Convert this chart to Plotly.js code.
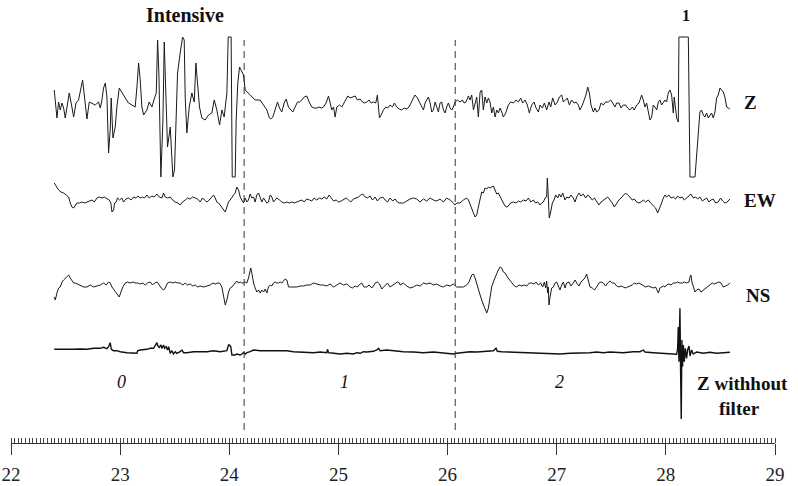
<!DOCTYPE html>
<html>
<head>
<meta charset="utf-8">
<script src="https://cdn.plot.ly/plotly-3.0.1.min.js"></script>
<style>html,body{margin:0;padding:0;background:#fff;}#chart{width:798px;height:486px;}</style>
</head>
<body>
<div id="chart"></div>
<script>
// ---- Z channel (filtered) ----
const zTime = [
22.396,22.421,22.436,22.451,22.467,22.482,22.497,22.513,22.534,22.558,
22.574,22.595,22.619,22.656,22.674,22.696,22.717,22.742,22.772,22.802,
22.818,22.833,22.848,22.864,22.879,22.894,22.909,22.918,22.934,22.955,
22.970,22.992,23.016,23.047,23.077,23.108,23.138,23.154,23.169,23.184,
23.199,23.215,23.245,23.266,23.291,23.315,23.331,23.343,23.355,23.373,
23.392,23.404,23.419,23.434,23.459,23.474,23.483,23.498,23.511,23.526,
23.550,23.572,23.587,23.596,23.611,23.633,23.657,23.679,23.694,23.712,
23.727,23.749,23.779,23.810,23.840,23.862,23.886,23.911,23.932,23.953,
23.978,23.990,24.017,24.027,24.054,24.063,24.078,24.094,24.115,24.130,
24.146,24.176,24.207,24.237,24.283,24.314,24.344,24.368,
24.381,24.399,24.420,24.442,24.460,24.481,24.503,24.521,24.542,24.564,
24.582,24.603,24.625,24.643,24.665,24.686,24.710,24.732,24.756,24.777,
24.802,24.823,24.842,24.863,24.887,24.909,24.924,24.939,24.955,24.970,
24.985,25.010,25.031,25.052,25.071,25.086,25.107,25.132,25.153,25.174,
25.199,25.220,25.238,25.260,25.281,25.300,25.321,25.342,25.357,25.367,
25.376,25.391,25.412,25.434,25.452,25.473,25.495,25.513,25.534,25.556,
25.580,25.602,25.626,25.647,25.666,25.687,25.702,25.724,25.742,25.763,
25.779,25.794,25.809,25.824,25.840,25.855,25.870,25.886,25.901,25.916,
25.931,25.946,25.962,25.977,25.992,26.008,26.023,26.038,26.053,26.069,
26.090,26.114,26.136,26.151,26.169,26.191,26.206,26.221,26.237,26.252,
26.267,26.282,26.298,26.313,26.328,26.343,26.359,26.374,
26.389,26.405,26.420,26.435,26.450,26.466,26.481,26.496,26.511,26.533,
26.557,26.579,26.603,26.627,26.649,26.670,26.688,26.710,26.731,26.749,
26.771,26.792,26.811,26.832,26.847,26.869,26.887,26.908,26.930,26.945,
26.963,26.985,27.006,27.024,27.046,27.061,27.076,27.097,27.116,27.137,
27.158,27.177,27.198,27.213,27.235,27.253,27.268,27.284,27.299,27.314,
27.336,27.351,27.366,27.387,27.406,27.427,27.449,27.473,27.494,27.513,
27.534,27.549,27.571,27.589,27.610,27.632,27.650,27.671,27.693,27.711,
27.732,27.754,27.778,27.793,27.809,27.824,27.839,27.854,27.870,27.885,
27.900,27.916,27.931,27.946,27.961,27.977,27.992,28.007,28.022,28.038,
28.053,28.068,28.077,28.090,28.099,28.114,28.120,28.206,28.212,28.221,
28.267,28.282,28.297,28.312,28.327,28.343,28.358,28.373,28.389,28.404,
28.419,28.434,28.450,28.465,28.480,28.496,28.511,28.526,28.541,28.557,
28.572,28.587];
const zAmp = [
13,-15,1,-7,0,-5,-15,-2,10,-4,
-14,0,3,23,5,-16,1,0,-2,1,
-5,3,15,20,6,-50,-27,5,-35,-24,
-4,15,10,5,0,-2,-4,16,40,23,
-4,-12,-7,1,-4,5,10,63,30,-74,
-17,61,-4,-44,-24,-64,-74,-67,-17,30,
50,66,63,6,-30,-4,10,1,40,16,
-4,-15,-17,-12,-10,3,-7,-22,-7,-14,
10,66,66,-74,-74,-17,20,36,31,28,
13,10,6,3,3,-2,-7,-15,
-16,-14,-7,1,-5,-9,0,4,-4,-7,
-9,-4,1,1,3,6,7,1,-4,-5,
-5,-4,-5,-4,0,7,0,-7,-4,-14,
-4,-2,-4,0,3,7,5,6,7,3,
4,1,0,1,3,0,1,0,8,-4,
-15,-12,-7,-4,-5,-2,-4,0,-4,-6,
-7,-5,-6,-4,1,5,8,5,1,-4,
-7,0,3,6,0,-9,-7,1,-4,-9,
0,1,-7,-10,-4,0,-5,-7,-4,1,
3,1,3,0,1,7,3,8,-7,0,
6,-14,11,13,-7,6,0,5,
1,-10,-4,-14,-7,-10,-5,-9,-14,-10,
-2,1,0,3,1,5,0,3,-2,-10,
-2,1,-5,-9,-2,-5,0,-7,1,-4,
5,-2,1,6,8,1,3,5,-2,3,
0,1,-2,-7,-2,3,8,16,10,-2,
-9,-5,-9,-7,0,-2,1,1,3,0,
-4,0,0,-5,-2,-2,-5,-7,-4,-7,
-2,0,8,3,-4,0,-7,-17,-14,-2,
-4,-7,1,3,-2,0,3,1,10,13,
8,-10,6,-7,-15,-19,66,66,16,-74,
-74,-50,-27,-9,-7,-12,-14,-10,-15,-12,
-10,-15,-9,5,8,15,13,11,6,-4,
-5,-6];

// ---- EW channel ----
const ewTime = [
22.396,22.421,22.436,22.458,22.482,22.506,22.528,22.543,22.558,22.574,
22.589,22.604,22.628,22.650,22.674,22.696,22.720,22.742,22.763,22.787,
22.809,22.833,22.854,22.879,22.900,22.915,22.925,22.940,22.949,22.964,
22.976,22.995,23.016,23.031,23.053,23.077,23.099,23.123,23.144,23.163,
23.184,23.205,23.224,23.245,23.266,23.291,23.312,23.337,23.358,23.383,
23.398,23.413,23.434,23.459,23.480,23.505,23.529,23.550,23.572,23.596,
23.617,23.642,23.663,23.688,23.709,23.733,23.755,23.773,23.795,23.816,
23.834,23.856,23.871,23.886,23.902,23.923,23.941,23.963,23.978,23.993,
24.008,24.024,24.039,24.054,24.069,24.085,24.100,24.115,24.130,24.146,
24.161,24.176,24.191,24.207,24.222,24.237,24.252,24.268,24.283,24.298,
24.314,24.329,24.344,24.359,24.375,24.390,24.405,24.420,24.436,24.460,
24.481,24.503,24.527,24.552,24.573,24.594,24.619,24.643,24.665,24.686,
24.710,24.735,24.756,24.777,24.802,24.826,24.848,24.869,24.893,24.915,
24.933,24.955,24.979,25.000,25.025,25.046,25.071,25.092,25.113,25.138,
25.159,25.183,25.205,25.223,25.245,25.266,25.290,25.312,25.336,25.357,
25.382,25.406,25.428,25.449,25.473,25.498,25.519,25.540,25.559,
25.595,25.626,25.657,25.687,25.718,25.748,25.779,25.809,25.840,25.870,
25.901,25.931,25.962,25.992,26.023,26.053,26.069,26.084,26.114,26.145,
26.175,26.191,26.206,26.221,26.237,26.252,26.267,26.282,26.298,26.313,
26.328,26.343,26.359,26.374,26.389,26.404,26.420,26.435,26.450,26.465,
26.481,26.496,26.511,26.527,26.542,26.557,26.578,26.603,26.627,26.649,
26.670,26.694,26.719,26.740,26.762,26.786,26.807,26.826,26.847,26.862,
26.878,26.893,26.908,26.914,26.920,26.926,26.932,26.945,26.960,26.975,
26.991,27.009,27.024,27.039,27.055,27.076,27.091,27.113,27.131,27.152,
27.168,27.183,27.204,27.222,27.244,27.265,27.284,27.305,27.326,27.345,
27.366,27.387,27.406,27.427,27.448,27.467,27.488,27.509,27.528,27.549,
27.570,27.589,27.610,27.632,27.650,27.671,27.692,27.711,27.732,27.754,
27.772,27.793,27.815,27.839,27.860,27.885,27.906,27.925,27.946,27.961,
27.977,27.992,28.007,28.028,28.047,28.068,28.089,28.108,28.129,28.151,
28.169,28.190,28.212,28.230,28.251,28.273,28.291,28.312,28.334,28.352,
28.373,28.395,28.413,28.434,28.456,28.480,28.501,28.520,28.541,28.562,
28.587];
const ewAmp = [
17,12,10,8,7,5,3,-3,-7,-8,
-6,-3,-3,-2,-3,-2,-1,0,-2,2,
3,2,3,1,0,-3,-12,-10,-3,-2,
2,0,2,-2,1,2,0,3,2,4,
2,3,2,5,2,4,3,6,3,2,
7,3,2,3,0,-2,-3,-5,-2,0,
2,1,3,2,1,-2,2,0,-2,0,
2,5,2,-2,-3,-6,-8,-12,-7,-2,
0,3,5,7,13,10,3,0,-3,2,
-2,0,6,2,3,-2,5,7,2,-2,
2,0,-3,-2,5,3,-2,0,2,0,
-2,-3,-2,-3,-2,-3,-2,-1,0,-2,
1,0,-1,2,0,2,1,3,1,5,
2,-1,0,-2,-1,0,2,0,-2,1,
2,3,5,6,3,2,4,0,3,-1,
2,3,0,-2,2,-1,1,-2,-3,
-3,-1,1,2,1,-2,1,-1,2,0,
-1,1,-2,2,0,-3,-5,-3,-3,0,
2,0,-5,-10,-13,-17,-15,-7,3,8,
7,12,11,13,12,13,14,10,6,7,
3,0,-3,-6,-7,-6,-3,-2,-3,-1,
-2,0,-1,2,-2,0,-3,-2,-5,-3,
-2,2,3,22,3,-3,-18,-12,-3,0,
5,2,6,3,7,0,3,2,5,2,
-2,3,7,4,6,2,5,3,0,2,
-2,-5,-2,0,2,3,0,-3,-7,-3,
0,2,5,7,5,3,0,1,-2,-3,
-2,0,-2,0,-3,-6,-8,-13,-8,-3,
2,5,3,5,2,3,1,4,2,3,
0,2,4,6,2,3,1,3,-1,0,
2,-2,0,1,-3,-2,2,-1,-3,-2,
1];

// ---- NS channel ----
const nsTime = [
22.396,22.406,22.421,22.436,22.451,22.467,22.482,22.497,22.513,22.528,
22.543,22.558,22.574,22.589,22.610,22.635,22.665,22.696,22.726,22.757,
22.787,22.818,22.848,22.873,22.894,22.909,22.925,22.946,22.970,22.992,
23.007,23.025,23.047,23.068,23.092,23.117,23.138,23.160,23.184,23.208,
23.230,23.251,23.276,23.297,23.315,23.337,23.358,23.376,23.398,23.413,
23.434,23.459,23.483,23.505,23.526,23.550,23.575,23.596,23.617,23.642,
23.666,23.688,23.709,23.733,23.764,23.795,23.825,23.850,23.871,23.892,
23.911,23.932,23.947,23.963,23.978,23.993,24.008,24.024,24.039,24.054,
24.069,24.085,24.100,24.115,24.130,24.146,24.161,24.176,24.185,24.197,
24.210,24.222,24.237,24.252,24.268,24.283,24.298,24.314,24.329,24.344,
24.359,24.375,24.390,24.405,24.420,24.436,24.451,24.466,24.481,24.497,
24.512,24.527,24.543,24.558,24.588,24.619,24.649,24.680,24.710,24.741,
24.771,24.802,24.833,24.863,24.893,24.924,24.955,24.985,25.016,25.046,
25.077,25.107,25.128,25.153,25.174,25.199,25.214,25.235,25.260,25.281,
25.306,25.321,25.336,25.357,25.376,25.397,25.413,25.428,25.449,25.473,
25.498,25.519,25.540,25.559,
25.565,25.595,25.626,25.657,25.687,25.718,25.748,25.779,25.809,25.840,
25.870,25.901,25.931,25.962,25.992,26.023,26.053,26.084,26.114,26.145,
26.175,26.197,26.221,26.237,26.252,26.273,26.298,26.322,26.343,26.359,
26.374,26.389,26.404,26.426,26.444,26.465,26.481,26.496,26.511,26.527,
26.548,26.572,26.594,26.612,26.633,26.655,26.679,26.701,26.725,26.749,
26.771,26.792,26.810,26.832,26.853,26.871,26.887,26.899,26.908,26.917,
26.923,26.929,26.939,26.954,26.969,26.984,27.000,27.015,27.030,27.045,
27.061,27.076,27.091,27.113,27.131,27.152,27.168,27.183,27.204,27.222,
27.244,27.259,27.274,27.290,27.305,27.326,27.345,27.366,27.387,27.406,
27.427,27.448,27.467,27.488,27.509,27.528,27.549,27.570,27.589,27.610,
27.632,27.650,27.671,27.692,27.711,27.732,27.754,27.772,27.793,27.815,
27.839,27.860,27.885,27.906,27.915,27.931,27.946,27.961,27.977,27.992,
28.007,28.028,28.047,28.068,28.089,28.108,28.129,28.151,28.169,28.190,
28.212,28.221,28.230,28.239,28.251,28.267,28.282,28.303,28.322,28.343,
28.364,28.383,28.404,28.425,28.443,28.465,28.486,28.505,28.526,28.547,
28.566,28.587];
const nsAmp = [
-12,-15,-8,-3,-2,3,5,7,9,10,
7,4,2,2,1,-1,-2,-2,0,-2,
-1,0,2,0,3,2,-2,-5,-8,-12,
-7,-2,2,3,2,3,2,2,1,2,
0,2,3,0,2,3,0,-3,-5,-3,
2,3,2,3,2,2,0,2,0,1,
-1,0,-2,-1,-2,-1,0,2,1,2,
2,-2,-12,-20,-15,-7,-3,-2,0,2,
4,2,3,2,2,3,2,7,12,17,
10,2,-3,-7,-5,-8,-5,-7,-4,-8,
-2,0,-1,2,3,2,2,3,2,4,
6,5,-2,-2,-2,-2,-1,-1,0,0,
2,1,0,0,-1,1,-2,0,2,0,
1,-2,-3,-1,-2,1,2,-2,-2,0,
-3,-1,2,3,1,-4,-2,0,2,-2,
0,2,3,2,
0,2,-1,-3,-2,0,-1,2,1,2,
0,1,-1,-2,0,-1,1,-2,-2,-2,
0,3,10,11,7,-2,-10,-18,-25,-28,
-23,-12,-2,5,10,15,18,17,13,12,
8,5,2,-1,-2,0,-1,0,-1,2,
2,1,3,0,2,-2,3,-3,4,-8,
-2,-20,-12,-3,-2,2,3,-2,-5,0,
3,-3,2,3,-1,2,5,2,-1,3,
5,7,11,5,-2,-3,-5,-2,2,3,
2,-1,2,4,2,2,-1,-2,-1,-2,
-3,-2,-1,0,2,1,2,1,0,-2,
-1,-2,-3,-2,-5,-8,-3,-2,-1,-2,
0,1,0,2,2,3,2,2,3,2,
3,8,10,3,-2,-7,-5,-4,-7,-5,
-3,-2,0,2,1,2,3,2,-2,-1,
0,2];

// ---- Z without filter ----
const zrTime = [
22.396,22.451,22.513,22.574,22.635,22.696,22.757,22.818,22.848,22.879,
22.894,22.909,22.919,22.940,22.970,23.001,23.062,23.123,23.154,23.160,
23.184,23.245,23.276,23.306,23.321,23.337,23.346,23.358,23.373,23.382,
23.398,23.407,23.422,23.434,23.444,23.459,23.474,23.489,23.505,23.520,
23.550,23.566,23.581,23.611,23.672,23.734,23.795,23.856,23.917,23.978,
23.993,24.002,24.014,24.024,24.054,24.069,24.100,24.115,24.130,24.146,
24.161,24.191,24.222,24.283,24.344,24.405,24.466,24.527,24.588,24.649,
24.710,24.771,24.833,24.893,24.900,24.909,24.955,25.016,25.077,25.138,
25.168,25.199,25.229,25.260,25.321,25.351,25.367,25.382,25.443,25.504,
25.559,
25.595,25.687,25.779,25.870,25.931,25.992,26.053,26.084,26.145,26.206,
26.267,26.328,26.389,26.420,26.444,26.456,26.496,26.633,26.755,26.847,
26.939,27.030,27.122,27.213,27.305,27.366,27.427,27.488,27.610,27.702,
27.763,27.793,27.809,27.885,27.976,28.038,28.099,28.108,28.114,28.120,
28.129,28.135,28.141,28.147,28.153,28.160,28.169,28.178,28.190,28.199,
28.212,28.221,28.236,28.251,28.282,28.343,28.404,28.465,28.526,28.587];
const zrAmp = [
0.7,0.7,0,0.7,1,0.7,1.7,1.7,2.7,1.3,
3.3,7.3,0.7,-0.7,-0.7,-1.7,-2.7,-3.3,-3.3,-0.7,
0,0.7,1.7,1.7,4,7.3,4,2.7,5,1.7,
5,1.7,3.3,0,3.3,-3.3,-0.7,-4,-1.7,-3.3,
-1.7,0,-2.7,-2.7,-1.7,-1.7,-1.7,-0.7,-1.7,-0.7,
5,5,3.3,-5,-5,-4,-5,-4,-2.7,-4,
-2.7,-1.7,0,-0.7,-0.7,-0.7,-0.7,-0.7,-1.7,-2,
-2.7,-2.7,-2,-2.7,0.7,-2.7,-3.3,-4,-3.3,-4,
-2.7,-3.3,-1.7,-2,-1.3,0,1.7,-0.7,0,-0.7,
-0.7,
-1.7,-2,-2.7,-2,-2.7,-4,-4,-3.3,-2.7,-1.7,
-2,-1.7,-1,-0.7,1.7,-1.3,-1.7,-2.3,-2.7,-2.7,
-3.3,-4,-3.3,-3.3,-2.7,-2,-2.7,-2,-2.7,-1.7,
-1.7,0,-2,-2.7,-3.3,-3.3,-4.3,1.7,23,-11.7,
41.7,-20,-69,10,-16.7,5,-11.7,1.7,-8.3,0,
4,-6,0,-4,-2,-3.3,-2.3,-3.3,-2.7,-2.3];

const xTicks = [22, 23, 24, 25, 26, 27, 28, 29];
const phaseBounds = [24.136, 26.07];

// layout-only: vertical placement of each channel's baseline
const baseZ = 340, baseEW = 243, baseNS = 158, baseZR = 93;
const shift = (arr, b) => arr.map(v => v + b);

const lineStyle = {color: '#1a1a1a', width: 1};
const traces = [
  {x: zTime, y: shift(zAmp, baseZ), mode: 'lines', line: lineStyle, hoverinfo: 'skip'},
  {x: ewTime, y: shift(ewAmp, baseEW), mode: 'lines', line: lineStyle, hoverinfo: 'skip'},
  {x: nsTime, y: shift(nsAmp, baseNS), mode: 'lines', line: lineStyle, hoverinfo: 'skip'},
  {x: zrTime, y: shift(zrAmp, baseZR), mode: 'lines', line: {color: '#111', width: 1.4}, hoverinfo: 'skip'}
];

const serif = 'Liberation Serif';
const ann = (x, y, text, size, opts) => Object.assign({
  x: x, y: y, xref: 'x', yref: 'y', text: text, showarrow: false,
  font: {family: serif, size: size, color: '#111'}
}, opts || {});

const layout = {
  width: 798, height: 486,
  margin: {l: 11, r: 23, t: 0, b: 43},
  paper_bgcolor: '#fff', plot_bgcolor: '#fff',
  showlegend: false,
  font: {family: serif},
  xaxis: {
    range: [22, 29], showgrid: false, zeroline: false,
    showline: true, linecolor: '#333', linewidth: 1,
    tickvals: xTicks, ticktext: xTicks.map(String),
    ticks: 'outside', ticklen: 11, tickwidth: 1, tickcolor: '#333',
    ticklabelstandoff: 3,
    tickfont: {family: serif, size: 19, color: '#222'},
    minor: {dtick: 1/30, tick0: 22, ticks: 'inside', ticklen: 5, tickwidth: 1, tickcolor: '#444', showgrid: false}
  },
  yaxis: {range: [0, 443], visible: false, fixedrange: true},
  shapes: phaseBounds.map(x => ({
    type: 'line', xref: 'x', yref: 'y', x0: x, x1: x, y0: 13, y1: 403,
    line: {color: '#333', width: 1, dash: '7px,5px'}
  })),
  annotations: [
    ann(23.596, 428, '<b>Intensive</b>', 20),
    ann(28.18, 428, '<b>1</b>', 16),
    ann(28.70, 341, '<b>Z</b>', 19, {xanchor: 'left'}),
    ann(28.70, 243, '<b>EW</b>', 19, {xanchor: 'left'}),
    ann(28.72, 148, '<b>NS</b>', 19, {xanchor: 'left'}),
    ann(28.705, 60, '<b>Z withhout</b>', 19),
    ann(28.675, 35, '<b>filter</b>', 19),
    ann(23.01, 61, '<i>0</i>', 18),
    ann(25.06, 61, '<i>1</i>', 18),
    ann(27.03, 61, '<i>2</i>', 18)
  ]
};

Plotly.newPlot('chart', traces, layout, {displayModeBar: false, staticPlot: true});
</script>
</body>
</html>
